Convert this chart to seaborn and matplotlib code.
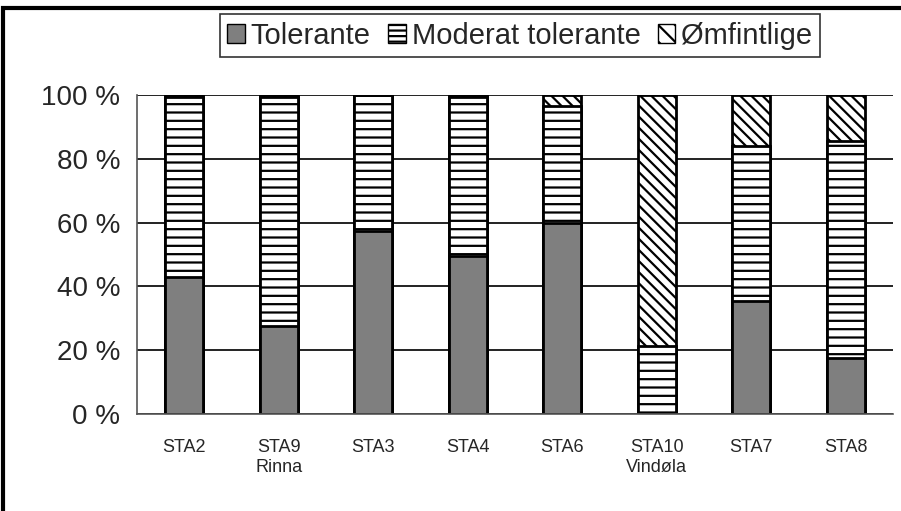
import matplotlib
matplotlib.use("Agg")
import matplotlib.pyplot as plt
from matplotlib.patches import Patch, Rectangle
import seaborn as sns
import pandas as pd
import numpy as np

# data (percent)
stations = ["STA2", "STA9\nRinna", "STA3", "STA4", "STA6", "STA10\nVindøla", "STA7", "STA8"]
tolerante = [43, 27.5, 57.5, 49.5, 60, 0.3, 35.5, 17.5]
moderat = [56.5, 72, 42.5, 50, 36.5, 21, 48.5, 68]
omfintlige = [0.5, 0.5, 0, 0.5, 3.5, 78.7, 16, 14.5]

df = pd.DataFrame({"station": stations, "Tolerante": tolerante,
                   "Moderat": moderat, "Omf": omfintlige})
df["t1"] = df["Tolerante"]
df["t2"] = df["Tolerante"] + df["Moderat"]
df["t3"] = df["t2"] + df["Omf"]

sns.set_style("white")
plt.rcParams["font.family"] = ["Liberation Sans", "DejaVu Sans"]
plt.rcParams["hatch.linewidth"] = 1.6

fig = plt.figure(figsize=(9.01, 5.11), dpi=100)
ax = fig.add_axes([137 / 901, 1 - 414 / 511, (893 - 137) / 901, (414 - 95) / 511])

# gridlines below bars
ax.set_axisbelow(True)
ax.yaxis.grid(True, color="#222222", linewidth=1.4)

# stacked bars, back to front
sns.barplot(data=df, x="station", y="t3", color="white", edgecolor="black",
            linewidth=2, hatch="\\\\\\", width=0.4, ax=ax)
sns.barplot(data=df, x="station", y="t2", color="white", edgecolor="black",
            linewidth=2, hatch="--", width=0.4, ax=ax)
sns.barplot(data=df, x="station", y="t1", color="#7f7f7f", edgecolor="black",
            linewidth=2, width=0.4, ax=ax)

ax.set_xlim(-0.5, len(stations) - 0.5)
ax.set_ylim(0, 100)
ax.set_yticks([0, 20, 40, 60, 80, 100])
ax.set_yticklabels([f"{v} %" for v in [0, 20, 40, 60, 80, 100]], fontsize=20)
ax.set_xlabel("")
ax.set_ylabel("")
ax.tick_params(axis="x", which="major", length=0, pad=18, labelsize=13)
ax.set_xticks(np.arange(-0.5, len(stations)), minor=True)
ax.tick_params(axis="x", which="minor", length=5, direction="out", color="#444444")
ax.tick_params(axis="y", length=5, direction="out", color="#444444", pad=7)

for s in ["top", "right"]:
    ax.spines[s].set_visible(False)
for s in ["left", "bottom"]:
    ax.spines[s].set_color("#555555")
    ax.spines[s].set_linewidth(1.2)

handles = [Patch(facecolor="#7f7f7f", edgecolor="black", label="Tolerante"),
           Patch(facecolor="white", edgecolor="black", hatch="---", label="Moderat tolerante"),
           Patch(facecolor="white", edgecolor="black", hatch="\\\\", label="Ømfintlige")]
leg = fig.legend(handles=handles, loc="center", bbox_to_anchor=(0.577, 0.93),
                 bbox_transform=fig.transFigure, ncol=3, fontsize=21, frameon=True,
                 fancybox=False, edgecolor="black", handlelength=0.6, handleheight=0.6,
                 handletextpad=0.2, columnspacing=0.6, borderpad=0.25, borderaxespad=0)
leg.get_frame().set_linewidth(1.2)

# outer chart frame
fig.patches.append(Rectangle((3 / 901, -0.1), 1.2, 1 - 8 / 511 + 0.1, transform=fig.transFigure,
                             fill=False, edgecolor="black", linewidth=3))

fig.savefig("out.png", dpi=100)
